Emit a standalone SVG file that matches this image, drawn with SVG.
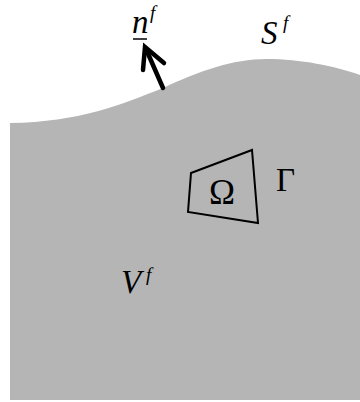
<svg xmlns="http://www.w3.org/2000/svg" width="360" height="402" viewBox="0 0 360 402">
<style>
.lbl{font-family:"Liberation Serif","Times New Roman",serif;fill:#000;font-size:33px}
.it{font-style:italic}
.sup{font-size:19px;font-style:italic}
</style>
<rect width="360" height="402" fill="#fff"/>
<g id="fluid">
<path d="M10,123 C80,122 120,105 163,88 C200,71 232,59 267,59 C300,59 335,66 360,75 L360,400 L10,400 Z" fill="#b5b5b5"/>
</g>
<g id="omega">
<polygon points="191,173 252,150 258,223 188,212" fill="none" stroke="#000" stroke-width="2"/>
<text class="lbl" x="222" y="203.5" text-anchor="middle" style="font-size:35px">Ω</text>
</g>
<g id="gamma"><text class="lbl" x="276" y="191">Γ</text></g>
<g id="vf"><text class="lbl it" x="121" y="293">V</text><text class="lbl sup" x="146" y="281">f</text></g>
<g id="sf"><text class="lbl it" x="261" y="43.5">S</text><text class="lbl sup" x="283" y="29">f</text></g>
<g id="nf"><text class="lbl it" x="132" y="33">n</text><text class="lbl sup" x="150" y="19">f</text>
<line x1="133" y1="39" x2="147" y2="39" stroke="#000" stroke-width="1.5"/></g>
<g id="connectors">
<line x1="163" y1="88" x2="146" y2="49" stroke="#000" stroke-width="4.5" stroke-linecap="round"/>
<polyline points="143,70 145,47 164,63" fill="none" stroke="#000" stroke-width="4.5" stroke-linecap="round" stroke-linejoin="miter"/>
</g>
</svg>
